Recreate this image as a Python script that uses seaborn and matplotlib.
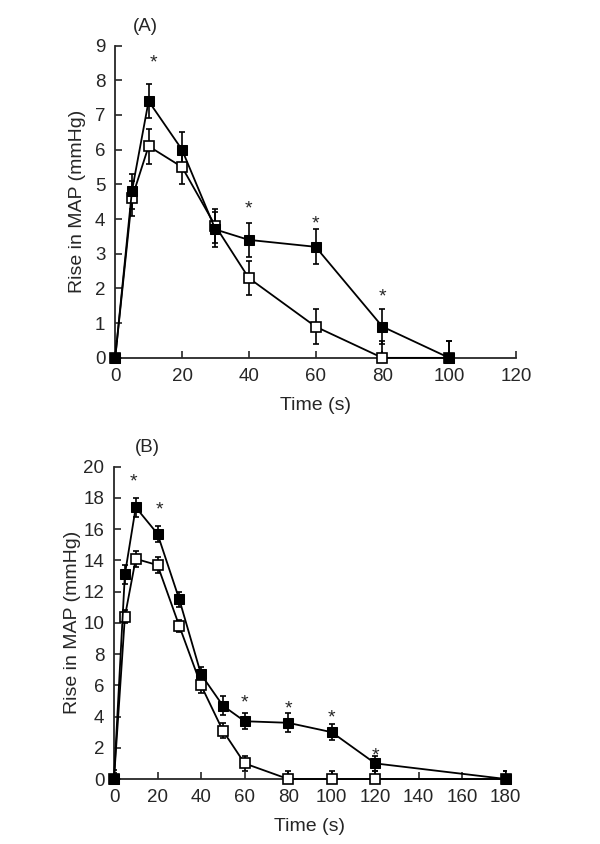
import matplotlib
matplotlib.use("Agg")
import matplotlib.pyplot as plt
import seaborn as sns
import numpy as np

# Panel A data
time_a = [0, 5, 10, 20, 30, 40, 60, 80, 100]
filled_a = [0, 4.8, 7.4, 6.0, 3.7, 3.4, 3.2, 0.9, 0]
filled_a_err = [0.5, 0.5, 0.5, 0.5, 0.5, 0.5, 0.5, 0.5, 0.5]
open_a = [0, 4.6, 6.1, 5.5, 3.8, 2.3, 0.9, 0, 0]
open_a_err = [0.5, 0.5, 0.5, 0.5, 0.5, 0.5, 0.5, 0.5, 0.5]
star_a_x = [11.5, 40, 60, 80]
star_a_y = [8.5, 4.3, 3.85, 1.75]

# Panel B data
time_b = [0, 5, 10, 20, 30, 40, 50, 60, 80, 100, 120, 180]
filled_b = [0, 13.1, 17.4, 15.7, 11.5, 6.7, 4.7, 3.7, 3.6, 3.0, 1.0, 0]
filled_b_err = [0.6, 0.6, 0.6, 0.5, 0.5, 0.5, 0.6, 0.5, 0.6, 0.5, 0.5, 0.5]
open_b = [0, 10.4, 14.1, 13.7, 9.8, 6.0, 3.1, 1.0, 0, 0, 0, 0]
open_b_err = [0.4, 0.4, 0.5, 0.5, 0.4, 0.5, 0.5, 0.5, 0.5, 0.5, 0.5, 0.5]
star_b_x = [9, 21, 60, 80, 100, 120]
star_b_y = [19.0, 17.2, 4.9, 4.5, 3.9, 1.5]

sns.set_style("ticks")
plt.rcParams["font.family"] = ["Liberation Sans", "DejaVu Sans"]
plt.rcParams["xtick.direction"] = "in"
plt.rcParams["ytick.direction"] = "in"

fig = plt.figure(figsize=(6, 8.44), dpi=100)
ax_a = fig.add_axes([0.192, 0.576, 0.668, 0.370])
ax_b = fig.add_axes([0.190, 0.077, 0.653, 0.370])


def draw_panel(ax, t, yf, ef, yo, eo, sx, sy, xmax, xstep, ymax, ystep,
               tag, tag_x, ylab_x):
    ax.errorbar(t, yo, yerr=eo, fmt="none", ecolor="black", elinewidth=1.2,
                capsize=2, capthick=1.2, zorder=2)
    ax.errorbar(t, yf, yerr=ef, fmt="none", ecolor="black", elinewidth=1.2,
                capsize=2, capthick=1.2, zorder=2)
    sns.lineplot(x=t, y=yo, ax=ax, color="black", lw=1.3, marker="s", ms=6.5,
                 mfc="white", mec="black", mew=1.2, clip_on=False, zorder=3)
    sns.lineplot(x=t, y=yf, ax=ax, color="black", lw=1.3, marker="s", ms=6.5,
                 mfc="black", mec="black", clip_on=False, zorder=4)
    for x, y in zip(sx, sy):
        ax.text(x, y, "*", ha="center", va="center", fontsize=14)
    ax.set_xlim(0, xmax)
    ax.set_ylim(0, ymax)
    ax.set_xticks(np.arange(0, xmax + 1, xstep))
    ax.set_yticks(np.arange(0, ymax + 1, ystep))
    ax.tick_params(labelsize=13.5, length=5, width=1.2, pad=7)
    for s in ["left", "bottom"]:
        ax.spines[s].set_linewidth(1.3)
    sns.despine(ax=ax)
    ax.set_xlabel("Time (s)", fontsize=14, labelpad=9)
    ax.set_ylabel("Rise in MAP (mmHg)", fontsize=14)
    ax.yaxis.set_label_coords(ylab_x, 0.5)
    ax.text(tag_x, 1.06, tag, transform=ax.transAxes, fontsize=13.5,
            ha="center", va="center")


draw_panel(ax_a, time_a, filled_a, filled_a_err, open_a, open_a_err,
           star_a_x, star_a_y, 120, 20, 9, 1, "(A)", 0.075, -0.072)
draw_panel(ax_b, time_b, filled_b, filled_b_err, open_b, open_b_err,
           star_b_x, star_b_y, 180, 20, 20, 2, "(B)", 0.084, -0.085)

fig.savefig("out.png", dpi=100)
